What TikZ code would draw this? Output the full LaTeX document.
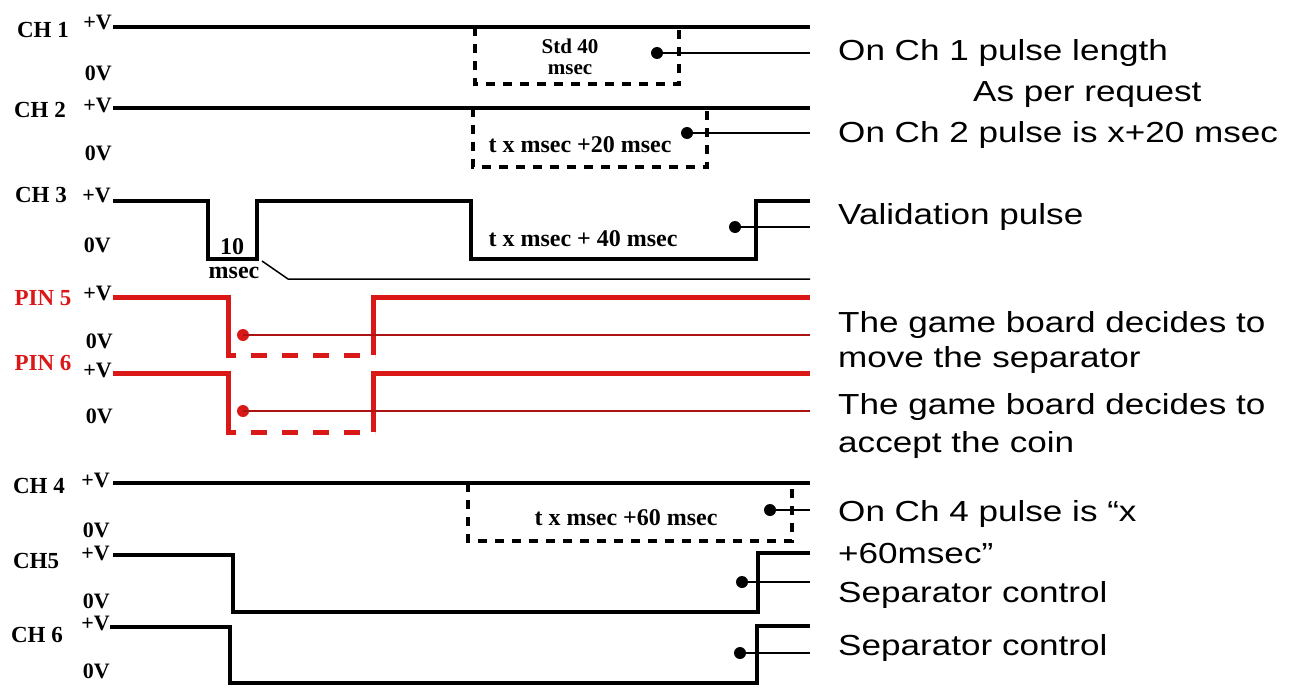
\documentclass[tikz,border=0pt]{standalone}
\usepackage{fontspec}
\usepackage{graphicx}
\setmainfont{Liberation Serif}
\newfontfamily\rsans{Liberation Sans}
\newcommand\widetxt[1]{\scalebox{1.21}[1]{#1}}
\definecolor{pinred}{RGB}{218,24,24}
\begin{document}
\begin{tikzpicture}[x=1pt,y=-1pt,
  wave/.style={line width=4.5pt},
  redwave/.style={line width=5pt, draw=pinred},
  thinline/.style={line width=1.5pt},
  redthin/.style={line width=1.5pt, draw=pinred!80!black},
  dbox/.style={line width=3.5pt, dash pattern=on 9pt off 8pt},
  reddash/.style={line width=5pt, draw=pinred, dash pattern=on 16pt off 15pt, dash phase=6pt},
  blackdot/.style={circle, fill=black, inner sep=0pt, minimum size=12pt},
  reddot/.style={circle, fill=pinred, inner sep=0pt, minimum size=12pt},
  lbl/.style={font=\fontsize{23}{25}\selectfont\bfseries, inner sep=0pt, anchor=base},
  volt/.style={font=\fontsize{22}{24}\selectfont\bfseries, inner sep=0pt, anchor=base east},
  intxt/.style={font=\fontsize{24}{26}\selectfont\bfseries, inner sep=0pt, anchor=base},
  note/.style={font=\rsans\fontsize{29}{34}\selectfont, anchor=base west, inner sep=0pt}
]
\useasboundingbox (0,0) rectangle (1302,688);

% ---------------- CH 1 ----------------
\node[lbl] (ch1) at (43,37) {CH 1};
\node[volt] (ch1p) at (112,30) {+V};
\node[volt] (ch1z) at (112,80) {0V};
\draw[wave] (113,27) -- (810,27);
\draw[dbox] (475,27) -- (475,84) -- (679,84) -- (679,27);
\node[font=\fontsize{21}{21}\selectfont\bfseries, inner sep=0pt, align=center] (t1) at (570,57) {Std 40\\msec};
\node[blackdot] (d1) at (657,53) {};
\coordinate (e1) at (810,53);
\draw[thinline] (d1.center) -- (e1);

% ---------------- CH 2 ----------------
\node[lbl] (ch2) at (40,117) {CH 2};
\node[volt] (ch2p) at (112,112) {+V};
\node[volt] (ch2z) at (112,160) {0V};
\draw[wave] (113,108) -- (810,108);
\draw[dbox] (473,108) -- (473,167) -- (707,167) -- (707,108);
\node[intxt] (t2) at (580,152) {t x msec +20 msec};
\node[blackdot] (d2) at (687,133) {};
\coordinate (e2) at (810,133);
\draw[thinline] (d2.center) -- (e2);

% ---------------- CH 3 ----------------
\node[lbl] (ch3) at (41,202) {CH 3};
\node[volt] (ch3p) at (111,202) {+V};
\node[volt] (ch3z) at (111,252) {0V};
\draw[wave] (113,201) -- (208,201) -- (208,259) -- (257,259) -- (257,201)
  -- (471,201) -- (471,259) -- (756,259) -- (756,201) -- (810,201);
\node[intxt] (t3a) at (232,254) {10};
\node[intxt] (t3b) at (234,278) {msec};
\coordinate (s3) at (262,261);
\coordinate (k3) at (288,279);
\coordinate (f3) at (810,279);
\draw[thinline] (s3) -- (k3) -- (f3);
\node[intxt] (t3) at (583,246) {t x msec + 40 msec};
\node[blackdot] (d3) at (735,227) {};
\coordinate (e3) at (810,227);
\draw[thinline] (d3.center) -- (e3);

% ---------------- PIN 5 ----------------
\node[lbl, text=pinred] (p5) at (43,305) {PIN 5};
\node[volt] (p5p) at (112,300) {+V};
\node[volt] (p5z) at (113,348) {0V};
\draw[redwave] (113,297) -- (228,297) -- (228,355);
\draw[redwave] (373,355) -- (373,297) -- (810,297);
\draw[reddash] (226,355) -- (375,355);
\node[reddot] (d5) at (243,335) {};
\coordinate (e5) at (810,335);
\draw[redthin] (d5.center) -- (e5);

% ---------------- PIN 6 ----------------
\node[lbl, text=pinred] (p6) at (43,370) {PIN 6};
\node[volt] (p6p) at (112,377) {+V};
\node[volt] (p6z) at (113,423) {0V};
\draw[redwave] (113,373) -- (228,373) -- (228,432);
\draw[redwave] (373,432) -- (373,373) -- (810,373);
\draw[reddash] (226,432) -- (375,432);
\node[reddot] (d6) at (243,411) {};
\coordinate (e6) at (810,411);
\draw[redthin] (d6.center) -- (e6);

% ---------------- CH 4 ----------------
\node[lbl] (ch4) at (39,493) {CH 4};
\node[volt] (ch4p) at (110,487) {+V};
\node[volt] (ch4z) at (110,537) {0V};
\draw[wave] (113,483) -- (810,483);
\draw[dbox] (468,483) -- (468,541) -- (792,541) -- (792,483);
\node[intxt] (t4) at (626,525) {t x msec +60 msec};
\node[blackdot] (d4) at (770,510) {};
\coordinate (e4) at (810,510);
\draw[thinline] (d4.center) -- (e4);

% ---------------- CH 5 ----------------
\node[lbl] (ch5) at (36,568) {CH5};
\node[volt] (ch5p) at (110,560) {+V};
\node[volt] (ch5z) at (110,608) {0V};
\draw[wave] (113,555) -- (233,555) -- (233,612) -- (758,612) -- (758,553) -- (810,553);
\node[blackdot] (d7) at (742,582) {};
\coordinate (e7) at (810,582);
\draw[thinline] (d7.center) -- (e7);

% ---------------- CH 6 ----------------
\node[lbl] (ch6) at (37,642) {CH 6};
\node[volt] (ch6p) at (110,630) {+V};
\node[volt] (ch6z) at (110,678) {0V};
\draw[wave] (110,627) -- (230,627) -- (230,683) -- (757,683) -- (757,626) -- (810,626);
\node[blackdot] (d8) at (740,653) {};
\coordinate (e8) at (810,653);
\draw[thinline] (d8.center) -- (e8);

% ---------------- notes ----------------
\node[note] (n1) at (838,60) {\widetxt{On Ch 1 pulse length}};
\node[note] (n2) at (973,101) {\widetxt{As per request}};
\node[note] (n3) at (838,142) {\widetxt{On Ch 2 pulse is x+20 msec}};
\node[note] (n4) at (838,224) {\widetxt{Validation pulse}};
\node[note] (n5) at (838,332) {\widetxt{The game board decides to}};
\node[note] (n6) at (838,367) {\widetxt{move the separator}};
\node[note] (n7) at (838,414) {\widetxt{The game board decides to}};
\node[note] (n8) at (838,452) {\widetxt{accept the coin}};
\node[note] (n9) at (838,521) {\widetxt{On Ch 4 pulse is “x}};
\node[note] (n10) at (838,563) {\widetxt{+60msec”}};
\node[note] (n11) at (838,602) {\widetxt{Separator control}};
\node[note] (n12) at (838,655) {\widetxt{Separator control}};
\end{tikzpicture}
\end{document}
